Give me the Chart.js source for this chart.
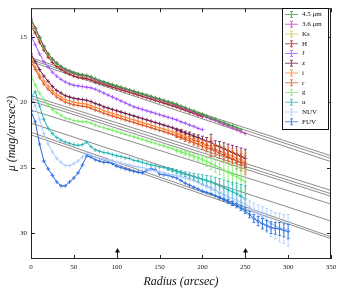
<!DOCTYPE html>
<html>
<head>
<meta charset="utf-8">
<script src="https://cdn.jsdelivr.net/npm/chart.js@4.4.0/dist/chart.umd.min.js"></script>
<style>
  body { margin: 0; background: #fff; }
  #wrap { width: 343px; height: 290px; }
</style>
</head>
<body>
<div id="wrap"><canvas id="profiles" width="343" height="290"></canvas></div>
<script>
// radii (arcsec)
const radius = [0,5,10,15,20,25,30,35,40,45,50,55,60,65,70,75,80,85,90,95,100,105,110,115,120,125,130,135,140,145,150,155,160,165,170,175,180,185,190,195,200,205,210,215,220,225,230,235,240,245,250,255,260,265,270,275,280,285,290,295,300];

// surface brightness, mag/arcsec^2
const mu45 = [13.7,14.35,15.05,15.75,16.3,16.7,17.0,17.25,17.45,17.6,17.75,17.85,17.9,17.95,18.05,18.2,18.35,18.45,18.55,18.65,18.75,18.85,18.95,19.05,19.15,19.25,19.35,19.45,19.55,19.65,19.75,19.85,19.95,20.05,20.15,20.3,20.4,20.55,20.65,20.8,20.9,21.05,21.2,21.3,21.45,21.55,21.7,21.8,21.95,22.1];
const mu36 = [13.6,14.3,15.0,15.7,16.3,16.7,17.0,17.3,17.5,17.65,17.8,17.9,17.95,18.0,18.1,18.25,18.4,18.5,18.6,18.7,18.8,18.9,19.0,19.1,19.2,19.3,19.4,19.5,19.6,19.7,19.8,19.9,20.0,20.1,20.25,20.4,20.5,20.65,20.75,20.9,21.0,21.15,21.3,21.4,21.55,21.7,21.8,21.95,22.1,22.25,22.4];
const muKs = [13.8,14.4,15.1,15.8,16.35,16.75,17.05,17.3,17.5,17.65,17.8,17.9,17.95,18.0,18.1,18.25,18.4,18.5,18.6,18.7,18.8,18.9,19.0,19.1,19.2,19.3,19.4,19.5,19.6,19.7,19.8,19.9,20.0,20.1,20.2,20.35,20.45,20.6,20.7,20.85,20.95];
const muH = [14.2,14.7,15.4,16.0,16.55,16.95,17.25,17.5,17.7,17.85,18.0,18.1,18.15,18.2,18.3,18.45,18.55,18.65,18.75,18.85,18.95,19.05,19.15,19.25,19.35,19.45,19.55,19.65,19.75,19.85,19.95,20.05,20.15,20.25,20.35,20.5,20.6,20.75,20.85,21.0,21.1];
const muJ = [14.9,15.6,16.3,16.9,17.3,17.7,18.0,18.25,18.45,18.6,18.7,18.75,18.8,18.85,18.9,19.0,19.15,19.3,19.45,19.6,19.75,19.9,20.05,20.2,20.35,20.45,20.55,20.65,20.75,20.85,20.95,21.05,21.15,21.25,21.35,21.5,21.6,21.75,21.85,22.0,22.1];
const muZ = [16.3,16.9,17.5,18.0,18.4,18.8,19.1,19.3,19.5,19.6,19.7,19.75,19.8,19.85,19.95,20.1,20.2,20.35,20.45,20.55,20.65,20.75,20.85,20.95,21.05,21.15,21.25,21.35,21.45,21.55,21.65,21.75,21.85,21.95,22.1,22.2,22.35,22.45,22.6,22.7,22.85,23.0,23.05,23.3,23.4,23.55,23.7,23.85,24.0,24.15,24.3];
const muI = [16.7,17.3,17.9,18.35,18.75,19.1,19.4,19.6,19.8,19.9,20.0,20.05,20.1,20.15,20.25,20.4,20.5,20.65,20.75,20.85,20.95,21.05,21.15,21.25,21.35,21.45,21.55,21.65,21.75,21.85,21.95,22.05,22.15,22.25,22.4,22.5,22.65,22.75,22.9,23.0,23.15,23.3,23.35,23.6,23.7,23.85,24.0,24.1,24.3,24.4,24.6];
const muR = [16.9,17.5,18.1,18.6,19.0,19.3,19.6,19.8,20.0,20.1,20.2,20.25,20.3,20.35,20.45,20.6,20.7,20.85,20.95,21.05,21.15,21.25,21.35,21.45,21.55,21.65,21.75,21.85,21.95,22.05,22.15,22.25,22.35,22.45,22.6,22.7,22.85,22.95,23.1,23.2,23.35,23.5,23.55,23.75,23.9,24.05,24.2,24.3,24.5,24.6,24.8];
const muG = [18.0,18.7,19.3,19.8,20.2,20.55,20.8,21.0,21.2,21.3,21.4,21.45,21.5,21.5,21.6,21.75,21.85,21.95,22.05,22.15,22.25,22.35,22.45,22.55,22.65,22.75,22.85,22.95,23.05,23.15,23.25,23.35,23.45,23.55,23.7,23.8,23.9,24.0,24.15,24.25,24.4,24.55,24.7,24.85,25.0,25.2,25.35,25.55,25.7,25.9,26.1];
const muU = [19.6,19.2,20.3,21.3,22.0,22.4,22.7,22.9,23.05,23.15,23.25,23.3,23.25,23.05,23.4,23.65,23.75,23.85,23.9,24.0,24.1,24.15,24.25,24.3,24.45,24.5,24.6,24.7,24.8,24.85,24.95,25.0,25.1,25.2,25.3,25.4,25.5,25.6,25.7,25.8,25.9,26.0,26.1,26.25,26.4,26.55,26.7,26.85,27.0,27.2,27.4];
const muNUV = [19.5,20.3,21.3,22.4,23.2,23.8,24.3,24.6,24.85,24.85,24.7,24.5,24.2,23.9,24.05,24.2,24.3,24.35,24.4,24.5,24.6,24.65,24.75,24.8,24.9,24.95,25.0,25.1,25.2,25.25,25.3,25.4,25.5,25.55,25.6,25.7,25.8,25.9,26.0,26.15,26.3,26.45,26.6,26.75,26.9,27.05,27.2,27.35,27.5,27.65,27.8,28.05,28.3,28.55,28.8,29.05,29.3,29.45,29.6,29.7,29.8];
const muFUV = [20.7,21.5,23.2,24.5,25.1,25.6,26.1,26.4,26.4,26.1,25.8,25.4,24.8,24.1,24.2,24.4,24.5,24.6,24.6,24.7,24.9,25.0,25.1,25.2,25.3,25.35,25.4,25.2,25.1,25.15,25.5,25.55,25.6,25.7,25.8,26.0,26.2,26.35,26.5,26.65,26.8,26.9,27.0,27.15,27.3,27.45,27.6,27.75,27.9,28.1,28.3,28.6,28.9,29.1,29.3,29.45,29.6,29.65,29.7,29.8,29.9];

// 1-sigma errors, mag
const errOpt = [0.03,0.03,0.03,0.03,0.03,0.03,0.03,0.03,0.03,0.03,0.03,0.03,0.03,0.03,0.03,0.03,0.03,0.03,0.03,0.03,0.03,0.03,0.03,0.03,0.03,0.03,0.03,0.03,0.03,0.03,0.04,0.05,0.06,0.08,0.1,0.12,0.14,0.16,0.18,0.2,0.25,0.3,0.6,0.35,0.4,0.45,0.5,0.55,0.6,0.65,0.7];
const errG = [0.04,0.04,0.04,0.04,0.04,0.04,0.04,0.04,0.04,0.04,0.04,0.04,0.04,0.04,0.04,0.04,0.04,0.04,0.04,0.04,0.04,0.04,0.04,0.04,0.04,0.04,0.04,0.04,0.04,0.04,0.05,0.06,0.07,0.08,0.1,0.12,0.15,0.18,0.2,0.25,0.3,0.35,0.45,0.5,0.55,0.6,0.7,0.75,0.8,0.9,1.0];
const errU = [0.05,0.05,0.05,0.05,0.05,0.05,0.05,0.05,0.05,0.05,0.05,0.05,0.05,0.05,0.05,0.05,0.05,0.05,0.05,0.05,0.05,0.05,0.05,0.05,0.05,0.05,0.05,0.05,0.05,0.05,0.06,0.08,0.1,0.12,0.14,0.16,0.18,0.2,0.25,0.3,0.35,0.4,0.45,0.5,0.55,0.6,0.65,0.7,0.8,0.9,1.0];
const errNUV = [0.05,0.05,0.05,0.05,0.05,0.05,0.05,0.05,0.05,0.05,0.05,0.05,0.05,0.05,0.05,0.05,0.05,0.05,0.05,0.05,0.05,0.05,0.05,0.05,0.05,0.05,0.05,0.05,0.05,0.05,0.05,0.05,0.05,0.05,0.05,0.05,0.05,0.05,0.05,0.05,0.1,0.12,0.15,0.18,0.2,0.22,0.25,0.28,0.3,0.35,0.4,0.5,0.6,0.7,0.8,0.9,1.0,1.0,1.1,1.1,1.2];
const errFUV = [0.05,0.05,0.05,0.05,0.05,0.05,0.05,0.05,0.05,0.05,0.05,0.05,0.05,0.05,0.05,0.05,0.05,0.05,0.05,0.05,0.05,0.05,0.05,0.05,0.05,0.05,0.05,0.05,0.05,0.05,0.05,0.05,0.05,0.05,0.05,0.05,0.05,0.05,0.05,0.05,0.06,0.07,0.08,0.09,0.1,0.12,0.14,0.16,0.18,0.2,0.22,0.25,0.3,0.35,0.4,0.4,0.45,0.45,0.5,0.5,0.55];

const bandLabels = ['4.5 \u03bcm', '3.6 \u03bcm', 'Ks', 'H', 'J', 'z', 'i', 'r', 'g', 'u', 'NUV', 'FUV'];
const bandValues = [mu45, mu36, muKs, muH, muJ, muZ, muI, muR, muG, muU, muNUV, muFUV];
const bandErrors = [null, null, null, null, null, errOpt, errOpt, errOpt, errG, errU, errNUV, errFUV];
const bandColors = ['#3a9a3a', '#cc33cc', '#c8c830', '#a01c1c', '#a050ff', '#6a1444', '#ff8030', '#dd5020', '#77ee66', '#22b4b4', '#aac8ff', '#2266dd'];

// exponential disc fits: mu at r = 0 and r = 350
const fitRange = [0, 350];
const fitInner = [16.6, 16.75, 16.9, 19.5, 19.7, 19.9, 20.6, 21.6, 22.3, 22.5];
const fitOuter = [24.1, 24.3, 24.55, 26.75, 27.0, 27.2, 27.8, 29.1, 30.3, 30.45];

const xTicks = [0, 50, 100, 150, 200, 250, 300, 350];
const yTicks = [15, 20, 25, 30];
const arrowRadii = [100, 250];

const serif = "'Liberation Serif', 'DejaVu Serif', serif";

const datasets = bandValues.map((vals, k) => ({
  label: bandLabels[k],
  data: vals.map((v, i) => ({x: radius[i], y: v})),
  errors: bandErrors[k],
  borderColor: bandColors[k],
  backgroundColor: bandColors[k],
  borderWidth: 1,
  pointStyle: 'cross',
  pointRadius: 2,
  pointBorderWidth: 0.8,
  tension: 0
}));

fitInner.forEach((m, k) => {
  datasets.push({
    label: 'fit' + k,
    isFit: true,
    data: [{x: fitRange[0], y: m}, {x: fitRange[1], y: fitOuter[k]}],
    borderColor: 'rgba(60,60,60,0.85)',
    borderWidth: 0.7,
    pointRadius: 0
  });
});

const errorBars = {
  id: 'errorBars',
  afterDatasetsDraw(chart) {
    const {ctx, scales: {x, y}} = chart;
    const a = chart.chartArea;
    ctx.save();
    ctx.beginPath();
    ctx.rect(a.left, a.top, a.right - a.left, a.bottom - a.top);
    ctx.clip();
    chart.data.datasets.forEach(ds => {
      if (!ds.errors) return;
      ctx.strokeStyle = ds.borderColor;
      ctx.lineWidth = 0.8;
      ctx.beginPath();
      ds.data.forEach((p, i) => {
        const e = ds.errors[i];
        if (e < 0.1) return;
        const px = x.getPixelForValue(p.x);
        const y1 = y.getPixelForValue(p.y - e), y2 = y.getPixelForValue(p.y + e);
        ctx.moveTo(px, y1); ctx.lineTo(px, y2);
        ctx.moveTo(px - 1.5, y1); ctx.lineTo(px + 1.5, y1);
        ctx.moveTo(px - 1.5, y2); ctx.lineTo(px + 1.5, y2);
      });
      ctx.stroke();
    });
    ctx.restore();
  }
};

const frame = {
  id: 'frame',
  afterDraw(chart) {
    const {ctx, chartArea: a, scales: {x, y}} = chart;
    ctx.save();
    ctx.strokeStyle = '#222';
    ctx.lineWidth = 1;
    ctx.strokeRect(a.left + 0.5, a.top + 0.5, a.right - a.left - 1, a.bottom - a.top - 1);
    ctx.beginPath();
    xTicks.forEach(v => {
      const px = Math.round(x.getPixelForValue(v)) + 0.5;
      ctx.moveTo(px, a.bottom); ctx.lineTo(px, a.bottom - 4);
      ctx.moveTo(px, a.top); ctx.lineTo(px, a.top + 4);
    });
    yTicks.forEach(v => {
      const py = Math.round(y.getPixelForValue(v)) + 0.5;
      ctx.moveTo(a.left, py); ctx.lineTo(a.left + 4, py);
      ctx.moveTo(a.right, py); ctx.lineTo(a.right - 4, py);
    });
    ctx.stroke();

    // arrows marking radii
    ctx.fillStyle = '#111';
    ctx.lineWidth = 1;
    arrowRadii.forEach(r => {
      const px = Math.round(x.getPixelForValue(r)) + 0.5;
      ctx.beginPath();
      ctx.moveTo(px, a.bottom); ctx.lineTo(px, a.bottom - 8);
      ctx.stroke();
      ctx.beginPath();
      ctx.moveTo(px, a.bottom - 11);
      ctx.lineTo(px - 2.5, a.bottom - 6.5);
      ctx.lineTo(px + 2.5, a.bottom - 6.5);
      ctx.closePath();
      ctx.fill();
    });

    // legend box
    const bx = 282, by = 8, bw = 46, bh = 121;
    ctx.fillStyle = '#fff';
    ctx.fillRect(bx, by, bw, bh);
    ctx.strokeStyle = '#111';
    ctx.strokeRect(bx + 0.5, by + 0.5, bw, bh);
    ctx.font = '7px ' + serif;
    ctx.textBaseline = 'middle';
    chart.data.datasets.filter(d => !d.isFit).forEach((d, i) => {
      const cy = by + 6.5 + i * 9.75;
      ctx.globalAlpha = 0.75;
      ctx.strokeStyle = d.borderColor;
      ctx.lineWidth = 1.2;
      ctx.beginPath();
      ctx.moveTo(bx + 3, cy); ctx.lineTo(bx + 16, cy);
      ctx.moveTo(bx + 9.5, cy - 3); ctx.lineTo(bx + 9.5, cy + 3);
      ctx.moveTo(bx + 8, cy - 3); ctx.lineTo(bx + 11, cy - 3);
      ctx.moveTo(bx + 8, cy + 3); ctx.lineTo(bx + 11, cy + 3);
      ctx.stroke();
      ctx.globalAlpha = 1;
      ctx.fillStyle = '#111';
      ctx.fillText(d.label, bx + 20, cy);
    });
    ctx.restore();
  }
};

new Chart(document.getElementById('profiles'), {
  type: 'line',
  data: {datasets},
  options: {
    responsive: false,
    animation: false,
    layout: {padding: {top: 4, right: 12, left: 0, bottom: 0}},
    plugins: {legend: {display: false}, tooltip: {enabled: false}},
    scales: {
      x: {
        type: 'linear', min: 0, max: 350,
        afterBuildTicks: s => { s.ticks = xTicks.map(v => ({value: v})); },
        afterFit: s => { s.height = 31; },
        grid: {display: false, drawTicks: false},
        border: {display: false},
        ticks: {font: {family: serif, size: 7}, color: '#222', padding: 4, maxRotation: 0},
        title: {display: true, text: 'Radius (arcsec)', color: '#111',
                font: {family: serif, size: 12, style: 'italic'}, padding: {top: 0, bottom: 1}}
      },
      y: {
        type: 'linear', reverse: true, min: 12.8, max: 32,
        afterBuildTicks: s => { s.ticks = yTicks.map(v => ({value: v})); },
        afterFit: s => { s.width = 31; },
        grid: {display: false, drawTicks: false},
        border: {display: false},
        ticks: {font: {family: serif, size: 7}, color: '#222', padding: 4},
        title: {display: true, text: '\u03bc (mag/arcsec\u00b2)', color: '#111',
                font: {family: serif, size: 12, style: 'italic'}, padding: {top: 5, bottom: 0}}
      }
    }
  },
  plugins: [errorBars, frame]
});
</script>
</body>
</html>
